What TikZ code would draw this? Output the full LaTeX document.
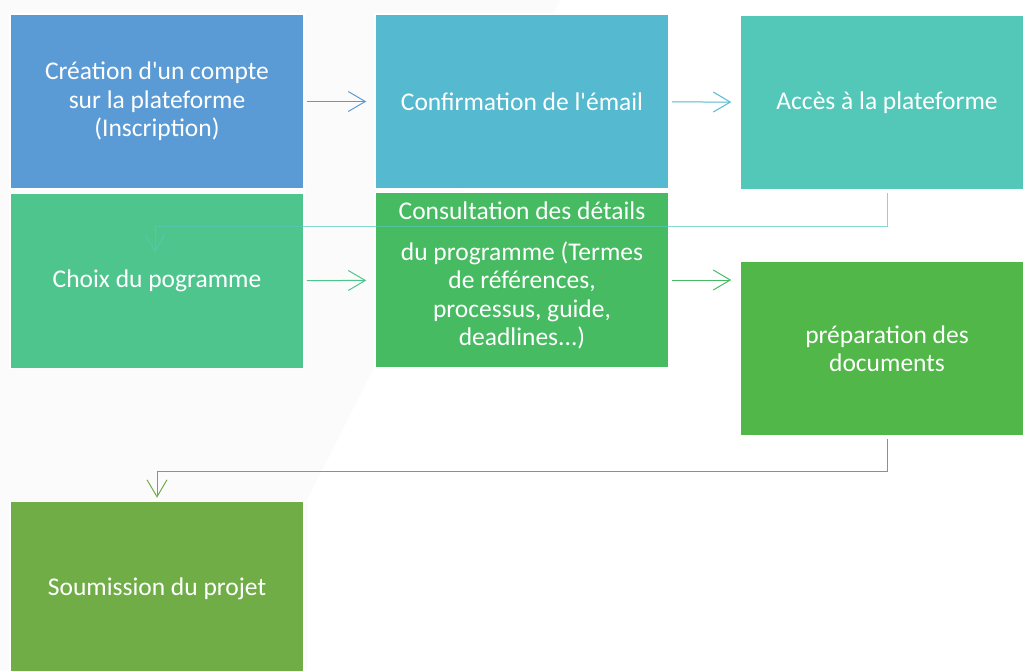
\documentclass[tikz,border=0pt]{standalone}
\usepackage{fontspec}
\setmainfont{Carlito}
\usepackage{xcolor}
\usetikzlibrary{positioning, calc, arrows.meta}

\definecolor{bleu}{HTML}{5B9BD5}
\definecolor{cyan2}{HTML}{55B9CF}
\definecolor{turquoise}{HTML}{53C8B9}
\definecolor{vertmenthe}{HTML}{4FC58E}
\definecolor{vertvif}{HTML}{46BB62}
\definecolor{vertpre}{HTML}{50B748}
\definecolor{vertolive}{HTML}{70AD47}

\begin{document}
\begin{tikzpicture}[x=1pt,y=-1pt,
    etape/.style={draw=white, line width=1.5pt, minimum width=294pt, minimum height=175pt,
      inner sep=0pt, align=center, text=white, font=\fontsize{25.5}{28.5}\selectfont},
    fleche/.style={line width=1pt, -{Straight Barb[length=17pt,width=20pt]},
      shorten <=2pt, shorten >=8pt}]
    \useasboundingbox (0,0) rectangle (1023,670);
    \clip (0,0) rectangle (1023,670);
    % fond
    \fill[gray!3] (0,0) -- (560,0) -- (307,500) -- (307,670) -- (0,670) -- cycle;
    % les etapes
    \node[etape, fill=bleu] (inscription) at (157,101.5) {Création d\textquotesingle un compte\\sur la plateforme\\(Inscription)};
    \node[etape, fill=cyan2] (confirmation) at (522,101.5) {Confirmation de l\textquotesingle émail};
    \node[etape, fill=turquoise] (acces) at (887,102.5) {Accès à la plateforme};
    \node[etape, fill=vertmenthe] (choix) at (157,281) {Choix du pogramme};
    \node[etape, fill=vertvif] (consultation) at (522,280) {\raisebox{0pt}[0pt][0pt]{Consultation des détails}\\[12pt]du programme (Termes\\de références,\\processus, guide,\\deadlines...)\\[-34pt]\mbox{}};
    \node[etape, fill=vertpre] (preparation) at (887,348.5) {préparation des\\documents};
    \node[etape, fill=vertolive] (soumission) at (157,589) {Soumission du projet};
    % fleches
    \draw[fleche, bleu] (inscription) -- (confirmation);
    \draw[fleche, cyan2] (confirmation) -- (acces);
    \draw[fleche, vertmenthe] (choix) -- (consultation);
    \draw[fleche, vertvif] (consultation.east) -- (consultation.east -| preparation.west);
    % retours a la ligne
    \coordinate (coude1) at (887,226);
    \coordinate (choixin) at (155,252);
    \draw[fleche, turquoise, draw opacity=0.7, shorten >=0pt] (acces.south) -- (coude1) -| (choixin);
    \draw[fleche, vertolive, shorten >=3pt] (preparation.south) -- ++(0,35) -| (soumission.north);
\end{tikzpicture}
\end{document}
